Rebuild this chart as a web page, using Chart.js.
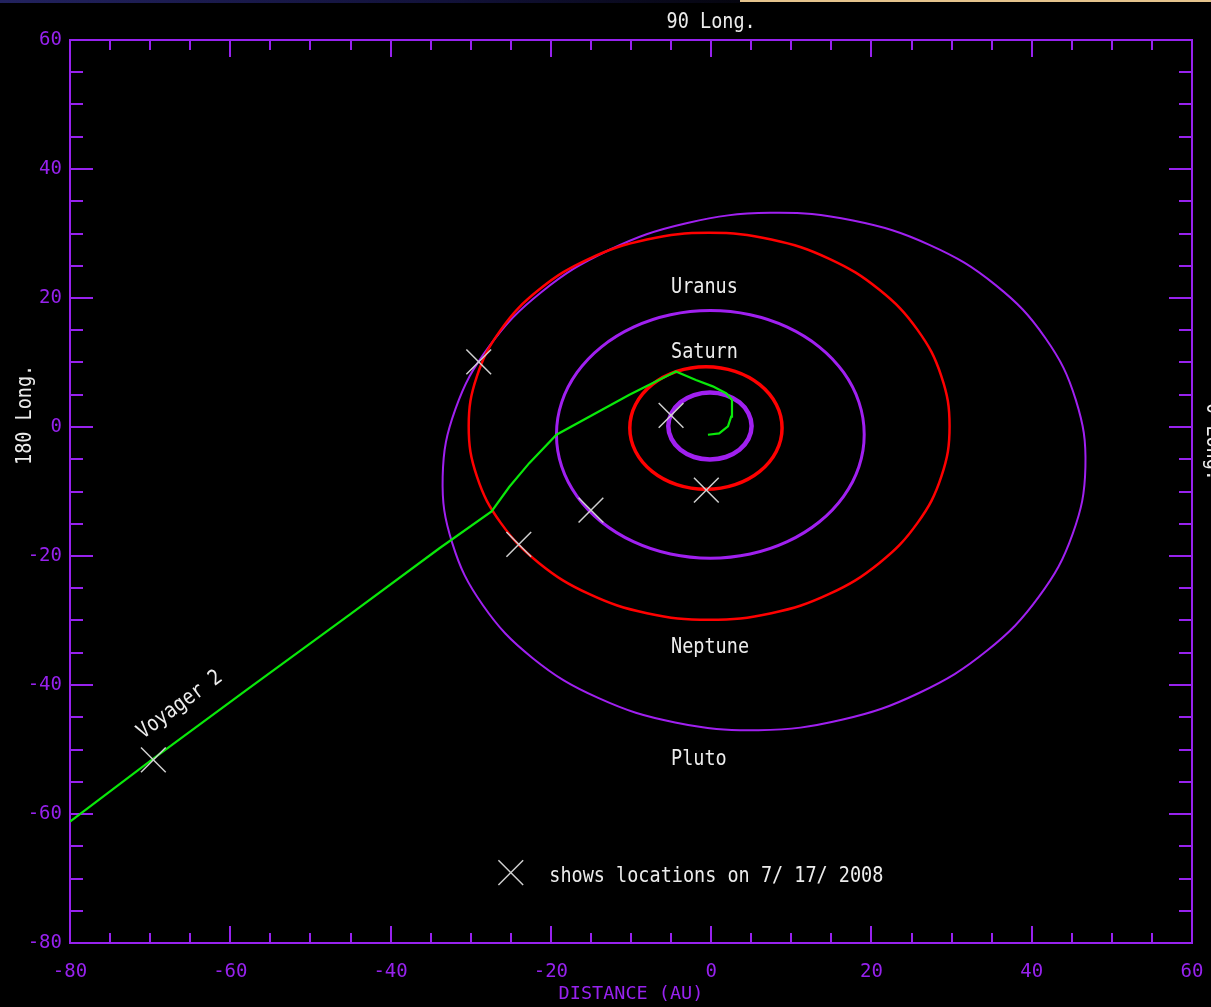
<!DOCTYPE html>
<html>
<head>
<meta charset="utf-8">
<script src="https://cdn.jsdelivr.net/npm/chart.js@4.4.1/dist/chart.umd.min.js"></script>
<style>
  html, body { margin: 0; padding: 0; background: #000; }
  #wrap { position: relative; width: 1211px; height: 1007px; }
  #stripL { position: absolute; left: 0; top: 0; width: 740px; height: 3px; background: linear-gradient(90deg, #22225e, #12123a 60%, #05050f); }
  #stripR { position: absolute; left: 740px; top: 0; width: 471px; height: 2px; background: #e4c38c; }
</style>
</head>
<body>
<div id="wrap">
  <canvas id="chart"></canvas>
  <div id="stripL"></div><div id="stripR"></div>
</div>
<script>
// orbitas (AU, x = distancia, y = distancia)
const jupiter = [[5.05,0.15],[4.65,2.14],[3.53,3.83],[1.84,4.95],[-0.15,5.35],[-2.14,4.95],[-3.83,3.83],[-4.95,2.14],
  [-5.35,0.15],[-4.95,-1.84],[-3.83,-3.53],[-2.14,-4.65],[-0.15,-5.05],[1.84,-4.65],[3.53,-3.53],[4.65,-1.84]];
const saturn = [[8.85,-0.15],[8.13,3.49],[6.07,6.57],[2.99,8.63],[-0.65,9.35],[-4.29,8.63],[-7.37,6.57],[-9.43,3.49],
  [-10.15,-0.15],[-9.43,-3.79],[-7.37,-6.87],[-4.29,-8.93],[-0.65,-9.65],[2.99,-8.93],[6.07,-6.87],[8.13,-3.79]];
const uranus = [[19.1,-1.15],[18.45,3.82],[16.53,8.45],[13.48,12.43],[9.5,15.48],[4.87,17.4],[-0.1,18.05],[-5.07,17.4],
  [-9.7,15.48],[-13.68,12.43],[-16.73,8.45],[-18.65,3.82],[-19.3,-1.15],[-18.65,-6.12],[-16.73,-10.75],[-13.68,-14.73],
  [-9.7,-17.78],[-5.07,-19.7],[-0.1,-20.35],[4.87,-19.7],[9.5,-17.78],[13.48,-14.73],[16.53,-10.75],[18.45,-6.12]];
const neptune = [[29.75,0.1],[28.73,7.86],[25.73,15.1],[20.96,21.31],[14.75,26.08],[7.51,29.08],[-0.25,30.1],[-8.01,29.08],
  [-15.25,26.08],[-21.46,21.31],[-26.23,15.1],[-29.23,7.86],[-30.25,0.1],[-29.23,-7.66],[-26.23,-14.9],[-21.46,-21.11],
  [-15.25,-25.88],[-8.01,-28.88],[-0.25,-29.9],[7.51,-28.88],[14.75,-25.88],[20.96,-21.11],[25.73,-14.9],[28.73,-7.66]];
const pluto = [[35.5,22.0],[27.3,28.2],[17.7,32.0],[7.4,33.2],[-3.1,31.6],[-12.8,27.4],[-21.2,20.9],[-27.7,12.5],
  [-31.9,2.8],[-33.5,-7.7],[-32.3,-18.0],[-28.5,-27.6],[-22.3,-35.8],[-14.1,-42.0],[-4.5,-45.8],[5.9,-47.0],
  [16.3,-45.4],[26.0,-41.2],[34.4,-34.7],[40.9,-26.3],[45.1,-16.6],[46.7,-6.2],[45.5,4.2],[41.7,13.8]];

// trayectoria de la Voyager 2
const voyager2 = [[-0.4,-1.2],[1.0,-1.0],[2.1,0.1],[2.5,1.6],[2.6,4.2],[1.9,5.2],[0.2,6.3],[-1.9,7.3],[-4.4,8.6],
  [-10.2,5.0],[-19.3,-1.2],[-22.7,-5.6],[-25.2,-9.3],[-27.4,-13.1],[-33.9,-18.8],[-45.1,-29.1],[-58.0,-40.8],
  [-69.6,-51.4],[-80.0,-61.2]];

// posiciones el 7/17/2008 (X)
const locations = [[-69.6,-51.6],[-29.0,10.1],[-24.0,-18.2],[-15.0,-12.9],[-5.0,1.8],[-0.6,-9.8]];
const legendMark = [[-25.0,-69.1]];

// etiquetas
const planetNames = ['Uranus', 'Saturn', 'Neptune', 'Pluto'];
const planetLabelY = [20.8, 10.7, -35.0, -52.4];
const planetLabelX = -5.0;
const majorTicks = [-80, -60, -40, -20, 0, 20, 40, 60];
const minorTicks = [-75, -70, -65, -55, -50, -45, -35, -30, -25, -15, -10, -5, 5, 10, 15, 25, 30, 35, 45, 50, 55];

const AXIS = '#9722ee';
const PURPLE = '#a020f0';
const RED = '#ff0000';
const GREEN = '#0ae80a';
const WHITE = '#ececec';
const FONT = '"DejaVu Sans Mono", monospace';

const toPts = arr => arr.map(p => ({ x: p[0], y: p[1] }));

// curva cerrada: se repiten puntos al principio y al final y esos tramos se ocultan
function orbit(arr, color, width) {
    const n = arr.length;
    const pts = toPts([arr[n - 1]].concat(arr, [arr[0], arr[1]]));
    const last = pts.length - 1;
    return {
        data: pts, showLine: true, borderColor: color, borderWidth: width,
        pointRadius: 0, tension: 0.4, fill: false, order: 2,
        segment: { borderColor: c => (c.p0DataIndex === 0 || c.p1DataIndex === last) ? 'rgba(0,0,0,0)' : undefined }
    };
}

// texto estirado en vertical para parecerse a la fuente del original
function drawText(ctx, text, px, py, angle) {
    ctx.save();
    ctx.translate(px, py);
    if (angle) ctx.rotate(angle);
    ctx.scale(1, 1.15);
    ctx.textAlign = 'left';
    ctx.textBaseline = 'alphabetic';
    ctx.fillText(text, 0, 0);
    ctx.restore();
}

const framePlugin = {
    id: 'frame',
    beforeDatasetsDraw(chart) {
        const { ctx, chartArea: a, scales: { x, y } } = chart;
        ctx.save();
        ctx.strokeStyle = AXIS;
        ctx.lineWidth = 2;
        ctx.strokeRect(a.left, a.top, a.right - a.left, a.bottom - a.top);
        ctx.beginPath();
        const marks = (vals, lx, ly) => vals.forEach(v => {
            const px = Math.round(x.getPixelForValue(v));
            ctx.moveTo(px, a.bottom); ctx.lineTo(px, a.bottom - lx);
            ctx.moveTo(px, a.top); ctx.lineTo(px, a.top + lx);
            const py = Math.round(y.getPixelForValue(v));
            ctx.moveTo(a.left, py); ctx.lineTo(a.left + ly, py);
            ctx.moveTo(a.right, py); ctx.lineTo(a.right - ly, py);
        });
        marks(majorTicks, 17, 23);
        marks(minorTicks, 10, 13);
        ctx.stroke();
        ctx.restore();
    }
};

const textPlugin = {
    id: 'texts',
    afterDatasetsDraw(chart) {
        const { ctx, chartArea: a, scales: { x, y } } = chart;
        ctx.save();
        ctx.fillStyle = WHITE;
        ctx.font = '18.5px ' + FONT;
        planetNames.forEach((n, i) => drawText(ctx, n, x.getPixelForValue(planetLabelX), y.getPixelForValue(planetLabelY[i])));
        drawText(ctx, 'Voyager 2', x.getPixelForValue(-70.9), y.getPixelForValue(-48.4), -36.5 * Math.PI / 180);
        drawText(ctx, 'shows locations on 7/ 17/ 2008', x.getPixelForValue(-20.2), y.getPixelForValue(-70.5));
        // rotulos de longitud
        const w = ctx.measureText('90 Long.').width;
        drawText(ctx, '90 Long.', x.getPixelForValue(0) - w / 2, a.top - 12);
        drawText(ctx, '180 Long.', 31, 465, -Math.PI / 2);
        drawText(ctx, '0 Long.', 1207, 403, Math.PI / 2);
        ctx.restore();
    }
};

const ctx = document.getElementById('chart').getContext('2d');
new Chart(ctx, {
    type: 'scatter',
    data: {
        datasets: [
            orbit(jupiter, PURPLE, 4.5),
            orbit(saturn, RED, 3.5),
            orbit(uranus, PURPLE, 3),
            orbit(neptune, RED, 2.5),
            orbit(pluto, PURPLE, 2),
            { data: toPts(voyager2), showLine: true, borderColor: GREEN, borderWidth: 2.2, pointRadius: 0, tension: 0, order: 1 },
            { data: toPts(locations.concat(legendMark)), showLine: false, pointStyle: 'crossRot', pointRadius: 17.5,
              borderColor: '#cfcfcf', borderWidth: 1.5, backgroundColor: 'transparent', order: 0 }
        ]
    },
    options: {
        responsive: true,
        maintainAspectRatio: false,
        animation: false,
        events: [],
        layout: { padding: { top: 40, right: 18, left: 0, bottom: 0 } },
        plugins: { legend: { display: false }, tooltip: { enabled: false } },
        scales: {
            x: {
                type: 'linear', min: -80, max: 60,
                grid: { display: false }, border: { display: false },
                afterBuildTicks: s => { s.ticks = majorTicks.map(v => ({ value: v })); },
                afterFit: s => { s.height = 64; s.paddingLeft = 0; s.paddingRight = 0; },
                ticks: { color: AXIS, font: { family: FONT, size: 19 }, padding: 10, maxRotation: 0, autoSkip: false },
                title: { display: true, text: 'DISTANCE (AU)', color: AXIS, font: { family: FONT, size: 18.5 }, padding: { top: 0, bottom: 2 } }
            },
            y: {
                type: 'linear', min: -80, max: 60,
                grid: { display: false }, border: { display: false },
                afterBuildTicks: s => { s.ticks = majorTicks.map(v => ({ value: v })); },
                afterFit: s => { s.width = 70; s.paddingTop = 0; s.paddingBottom = 0; },
                ticks: { color: AXIS, font: { family: FONT, size: 19 }, padding: 0, autoSkip: false }
            }
        }
    },
    plugins: [framePlugin, textPlugin]
});
</script>
</body>
</html>
